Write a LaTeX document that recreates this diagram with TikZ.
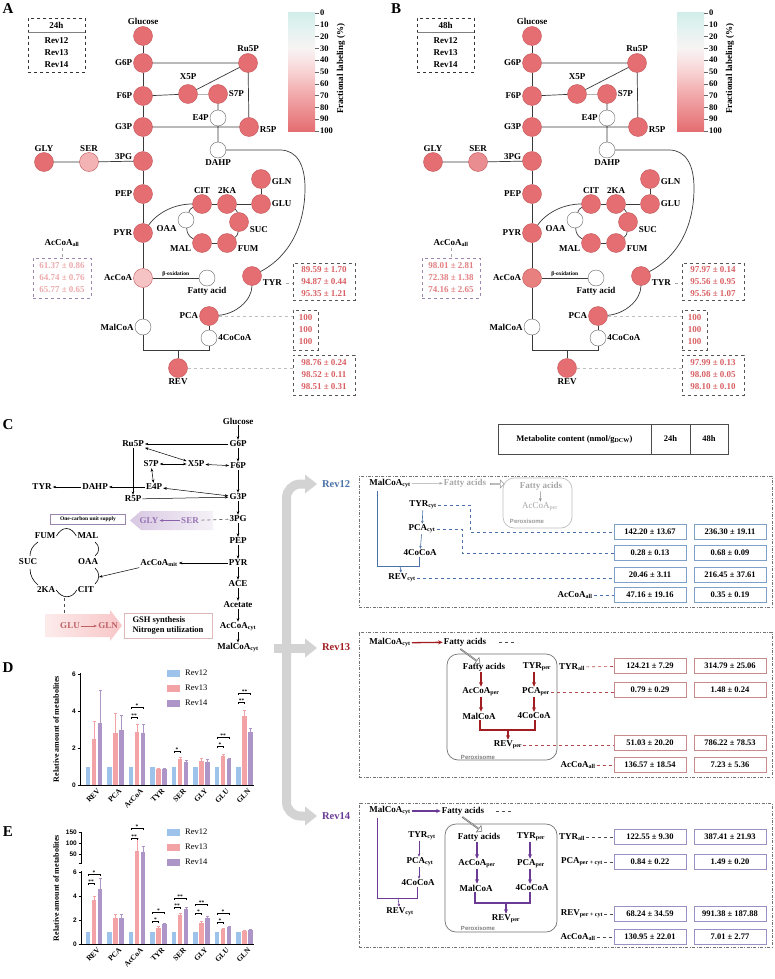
\documentclass[tikz,border=0pt]{standalone}
\usepackage{fontspec}
\setmainfont{Liberation Serif}
\setsansfont{Liberation Sans}
\usetikzlibrary{arrows.meta,shapes.arrows}
\definecolor{cR}{HTML}{E46E71}
\definecolor{cRb}{HTML}{C4585B}
\definecolor{lnC}{HTML}{3A3A3A}
\definecolor{serA}{HTML}{F3B2B4}
\definecolor{accA}{HTML}{F6C3C5}
\definecolor{serB}{HTML}{EA8D90}
\definecolor{accB}{HTML}{E8807F}
\definecolor{valR}{HTML}{D95F63}
\definecolor{valPA}{HTML}{EDAAAD}
\definecolor{valPB}{HTML}{E27F82}
\definecolor{boxP}{HTML}{9A86AE}
\definecolor{boxG}{HTML}{555555}
\definecolor{blueR}{HTML}{4A72A8}
\definecolor{blueB}{HTML}{7FA0C8}
\definecolor{redR}{HTML}{A11D22}
\definecolor{redB}{HTML}{C98A8C}
\definecolor{purR}{HTML}{6A3A95}
\definecolor{purB}{HTML}{9C90C2}
\definecolor{barB}{HTML}{9DC3EA}
\definecolor{barR}{HTML}{F3A3A5}
\definecolor{barP}{HTML}{AE95C8}
\definecolor{arrG}{HTML}{D3D3D3}
\definecolor{lav}{HTML}{D8C8E2}
\definecolor{pnk}{HTML}{F8C6C7}
\definecolor{cb0}{HTML}{D2EEEA}
\definecolor{cb10}{HTML}{DFF2EF}
\definecolor{cb30}{HTML}{F8F4F4}
\definecolor{cb50}{HTML}{F8D2D3}
\definecolor{cb70}{HTML}{F1A7A9}
\definecolor{cb90}{HTML}{E98184}
\definecolor{cb100}{HTML}{E46E71}
\pgfdeclareverticalshading{fracbar}{100bp}{color(0bp)=(cb100); color(25bp)=(cb100); color(30bp)=(cb90); color(40bp)=(cb70); color(50bp)=(cb50); color(60bp)=(cb30); color(70bp)=(cb10); color(75bp)=(cb0); color(100bp)=(cb0)}

\newcommand{\pnet}[3]{%
\node[met, label=above:Glucose] (#1glc) at (143,36) {};
\node[met, label=left:G6P] (#1g6p) at (143,63) {};
\node[met, label=above:Ru5P] (#1ru5p) at (248,63) {};
\node[met, label={[label distance=4pt]above:X5P}] (#1x5p) at (188,94) {};
\node[met, label=right:S7P] (#1s7p) at (218,94) {};
\node[met, label=left:F6P] (#1f6p) at (143,96) {};
\node[omet, label=left:E4P] (#1e4p) at (218,118) {};
\node[met, label=left:G3P] (#1g3p) at (143,127) {};
\node[met, label={[yshift=-3pt]right:R5P}] (#1r5p) at (249,127) {};
\node[met, label=above:GLY] (#1gly) at (44,162) {};
\node[met=#2, label=above:SER] (#1ser) at (89,162) {};
\node[met, label={[yshift=4pt]left:3PG}] (#1pg) at (143,161) {};
\node[omet, label=below:DAHP] (#1dahp) at (218,150) {};
\node[met, label={[yshift=-3pt]right:GLN}] (#1gln) at (261,179) {};
\node[met, label=left:PEP] (#1pep) at (143,194) {};
\node[met, label=above:CIT] (#1cit) at (202,204) {};
\node[met, label=above:2KA] (#1ka) at (227,204) {};
\node[met, label=right:GLU] (#1glu) at (261,204) {};
\node[omet, label={[yshift=-9pt]left:OAA}] (#1oaa) at (186,220) {};
\node[met, label={[yshift=-8pt]right:SUC}] (#1suc) at (239,222) {};
\node[met, label={[yshift=-6pt]left:MAL}] (#1mal) at (202,243) {};
\node[met, label={[yshift=-6pt]right:FUM}] (#1fum) at (227,243) {};
\node[met, label=left:PYR] (#1pyr) at (143,233) {};
\node[met=#3, label=left:AcCoA] (#1acc) at (143,278) {};
\node[omet, label=below:Fatty acid] (#1fa) at (207,278) {};
\node[met, label={[yshift=-7pt]right:TYR}] (#1tyr) at (252,276) {};
\node[met, label=left:PCA] (#1pca) at (209,316) {};
\node[omet, label=left:MalCoA] (#1mcoa) at (143,327) {};
\node[omet, label=right:4CoCoA] (#1coa) at (209,338) {};
\node[met, label=below:REV] (#1rev) at (178,368) {};
\draw[ln] (#1glc)--(#1g6p) (#1g6p)--(#1f6p) (#1f6p)--(#1g3p) (#1g3p)--(#1pg) (#1pg)--(#1pep) (#1pep)--(#1pyr) (#1pyr)--(#1acc) (#1acc)--(#1mcoa);
\draw[ln] (#1g6p)--(#1ru5p) (#1ru5p)--(#1x5p) (#1ru5p)--(#1r5p) (#1f6p)--(#1x5p) (#1s7p)--(#1e4p) (#1e4p)--(#1dahp) (#1g3p)--(#1r5p) (#1gly)--(#1ser) (#1ser)--(#1pg);
\draw[draw=black!30, line width=0.7pt] (#1x5p)--(#1s7p);
\draw[ln] (#1cit)--(#1ka) (#1ka)--(#1glu) (#1glu)--(#1gln) (#1fum)--(#1mal);
\draw[ln] (#1ka) to[bend left=25] (#1suc);
\draw[ln] (#1suc) to[bend left=25] (#1fum);
\draw[ln] (#1mal) to[bend left=30] (#1oaa);
\draw[ln] (#1oaa) to[bend left=25] (#1cit);
\draw[ln] (#1pyr) .. controls (158,212) and (175,204) .. (#1cit);
\draw[ln] (#1dahp) -- (280,150) .. controls (297,150) and (305,165) .. (305,188) .. controls (305,225) and (290,256) .. (#1tyr);
\draw[ln] (#1tyr) .. controls (252,300) and (236,314) .. (#1pca);
\draw[ln] (#1pca) -- (#1coa);
\draw[ln] (#1acc) -- node[above, font=\bfseries\fontsize{5.5}{6}\selectfont, inner sep=1pt] (#1beta) {β-oxidation} (#1fa);
\draw[ln] (#1mcoa) -- (143,350) -- (209,350) -- (#1coa);
\draw[ln] (#1rev) -- (178,350);
\shade[shading=fracbar] (288,13) rectangle (315,131);
\foreach \v [count=\k from 0] in {0,10,...,100} {
  \draw[black!60, line width=0.5pt] (315,{13+11.8*\k}) -- (319,{13+11.8*\k});
  \node[anchor=west, font=\bfseries\fontsize{8.5}{9}\selectfont, inner sep=1pt] (#1t\k) at (319,{13+11.8*\k}) {\v};
}
\node[rotate=90, font=\bfseries\fontsize{9}{10}\selectfont] (#1cbl) at (341,69) {Fractional labeling (\%)};
}

\newcommand{\pvals}[6]{%
\node[lab] (#1accall) at (62,243) {AcCoA\textsubscript{all}};
\node[vbx, draw=boxP, text=#2, minimum width=58pt, minimum height=40pt] (#1accbox) at (62,278) {#3};
\draw[gray!70, dashed] (#1accall) -- (#1accbox);
\node[vbx, draw=boxG, text=valR, minimum width=62pt, minimum height=37pt] (#1tyrbox) at (324,281.5) {#4};
\coordinate (#1tyrd) at (286,283);
\draw[gray!70, dashed] (#1tyrd) -- (#1tyrd -| #1tyrbox.west);
\node[vbx, draw=boxG, text=valR, minimum width=25pt, minimum height=40pt] (#1pcabox) at (305.5,330) {100\\100\\100};
\draw[gray!50, dashed] (#1pca) -- (#1pca -| #1pcabox.west);
\node[vbx, draw=boxG, text=valR, minimum width=62pt, minimum height=40pt] (#1revbox) at (324,375) {#5};
\draw[gray!50, dashed] (#1rev) -- (#1rev -| #1revbox.west);
\node[draw=black!80, dashed, line width=0.6pt, minimum width=57pt, minimum height=54pt, inner sep=0] (#1tb) at (56.5,45) {};
\node[lab] (#1tbh) at (56.5,25.5) {#6};
\draw[black!50, line width=0.5pt] (#1tb.west |- 0,32) -- (#1tb.east |- 0,32);
\node[lab] (#1tr1) at (56.5,41) {Rev12};
\node[lab] (#1tr2) at (56.5,53) {Rev13};
\node[lab] (#1tr3) at (56.5,65) {Rev14};
}

\newcommand{\sigb}[4]{%
\draw[line width=0.5pt] (#1,#3+2) -- (#1,#3) -- (#2,#3) -- (#2,#3+2);
\node[font=\bfseries\fontsize{5.5}{5.5}\selectfont, inner sep=0] at ({(#1+#2)/2},#3-1.6) {#4};}

\begin{document}
\begin{tikzpicture}[x=1pt,y=-1pt,
  every label/.style={font=\bfseries\fontsize{9}{10}\selectfont, inner sep=1pt},
  lab/.style={font=\bfseries\fontsize{9}{10}\selectfont, inner sep=1pt},
  met/.style={circle, draw=cRb, line width=0.4pt, fill=#1, minimum size=19pt, inner sep=0pt},
  met/.default=cR,
  omet/.style={circle, draw=black!60, line width=0.4pt, fill=white, minimum size=16pt, inner sep=0pt},
  ln/.style={draw=lnC, line width=0.7pt},
  vbx/.style={dashed, line width=0.6pt, align=center, font=\bfseries\fontsize{9}{12}\selectfont, inner sep=1pt},
  letter/.style={font=\bfseries\fontsize{15}{15}\selectfont, inner sep=0pt},
  arr/.style={-{Stealth[length=3.5pt,width=2.6pt]}, line width=0.5pt},
  darr/.style={{Stealth[length=3.5pt,width=2.6pt]}-{Stealth[length=3.5pt,width=2.6pt]}, line width=0.5pt},
  vb/.style={draw=#1, line width=0.6pt, minimum width=72pt, minimum height=15pt, inner sep=0pt, font=\bfseries\fontsize{8.5}{9}\selectfont},
  panelbox/.style={draw=black!55, dash pattern=on 3pt off 1.5pt on 0.8pt off 1.5pt, line width=0.6pt, inner sep=0pt, minimum width=413pt},
  perox/.style={draw=black!55, rounded corners=11pt, line width=0.7pt},
  pxt/.style={font=\sffamily\bfseries\fontsize{6}{6}\selectfont, text=black!50, inner sep=0pt},
  thk/.style={-{Stealth[length=4.5pt,width=4pt]}, line width=1.3pt},
  thn/.style={-{Stealth[length=3pt,width=2.6pt]}, line width=0.6pt},
  tickf/.style={font=\sffamily\bfseries\fontsize{6.5}{7}\selectfont, inner sep=1pt},
  catf/.style={font=\bfseries\fontsize{7.5}{7.5}\selectfont, inner sep=0pt},
  legf/.style={font=\fontsize{8.5}{9}\selectfont, inner sep=0pt}
]
\useasboundingbox (0,0) rectangle (774,979);
\fill[white] (0,0) rectangle (774,979);

% ---------------- A and B
\node[letter] (lA) at (8,9) {A};
\node[letter] (lB) at (396,9) {B};
\pnet{A}{serA}{accA}
\pvals{A}{valPA}{61.37 ± 0.86\\64.74 ± 0.76\\65.77 ± 0.65}{89.59 ± 1.70\\94.87 ± 0.44\\95.35 ± 1.21}{98.76 ± 0.24\\98.52 ± 0.11\\98.51 ± 0.31}{24h}
\begin{scope}[shift={(389,0)}]
\pnet{B}{serB}{accB}
\pvals{B}{valPB}{98.01 ± 2.81\\72.38 ± 1.38\\74.16 ± 2.65}{97.97 ± 0.14\\95.56 ± 0.95\\95.56 ± 1.07}{97.99 ± 0.13\\98.08 ± 0.05\\98.10 ± 0.10}{48h}
\end{scope}

% ---------------- C
\node[letter] (lC) at (8,425) {C};
\node[lab] (cglc) at (238,421) {Glucose};
\node[lab] (cg6p) at (238,444) {G6P};
\node[lab] (cru5p) at (133,444) {Ru5P};
\node[lab] (cs7p) at (151,464) {S7P};
\node[lab] (cx5p) at (196,464) {X5P};
\node[lab] (cf6p) at (238,466) {F6P};
\node[lab] (ctyr) at (42,487) {TYR};
\node[lab] (cdahp) at (95,487) {DAHP};
\node[lab] (ce4p) at (154,487) {E4P};
\node[lab] (cr5p) at (133,499) {R5P};
\node[lab] (cg3p) at (238,497) {G3P};
\node[lab] (cpg) at (238,519) {3PG};
\node[lab] (cpep) at (238,541) {PEP};
\node[lab] (cpyr) at (238,563) {PYR};
\node[lab] (cacm) at (159,563) {AcCoA\textsubscript{mit}};
\node[lab] (cace) at (238,584) {ACE};
\node[lab] (cacet) at (238,605) {Acetate};
\node[lab] (caccyt) at (238,627) {AcCoA\textsubscript{cyt}};
\node[lab] (cmal) at (238,648) {MalCoA\textsubscript{cyt}};
\draw[arr] (cglc) -- (cg6p);
\draw[arr] (cg6p) -- (cru5p);
\draw[darr] (cru5p) -- (cx5p);
\draw[darr] (cs7p) -- (cx5p);
\draw[darr] (cx5p) -- (cf6p);
\draw[arr] (cg6p) -- (cf6p);
\draw[arr] (cf6p) -- (cg3p);
\draw[darr] (cs7p) -- (ce4p);
\draw[darr] (ce4p) -- (cg3p);
\draw[arr] (cru5p) -- (cr5p);
\draw[arr] (cr5p) -- (cg3p);
\draw[arr] (ce4p) -- (cdahp);
\draw[arr] (cdahp) -- (ctyr);
\draw[arr] (cg3p) -- (cpg);
\draw[arr] (cpg) -- (cpep);
\draw[arr] (cpep) -- (cpyr);
\draw[arr] (cpyr) -- (cacm);
\draw[arr] (cpyr) -- (cace);
\draw[arr] (cace) -- (cacet);
\draw[arr] (cacet) -- (caccyt);
\draw[arr] (caccyt) -- (cmal);
% lavender arrow
\shade[left color=lav, right color=lav!25] (130,520.5) -- (141,511) -- (213,511) -- (213,530) -- (141,530) -- cycle;
\node[lab, text=purR!70] (cgly) at (149,520.5) {GLY};
\node[lab, text=purR!70] (cser) at (190,520.5) {SER};
\draw[arr, purR!80, line width=0.8pt] (cser) -- (cgly);
\draw[dashed, line width=0.7pt, black!60] (cpg) -- (cser);
\node[draw=boxP, line width=0.6pt, minimum width=75pt, minimum height=10pt, inner sep=1pt, font=\bfseries\fontsize{5.5}{6}\selectfont] (cocb) at (88,519) {One-carbon unit supply};
% TCA ring
\node[lab] (cfum) at (45,536) {FUM};
\node[lab] (cmal2) at (88,536) {MAL};
\node[lab] (csuc) at (28,562) {SUC};
\node[lab] (coaa) at (88,562) {OAA};
\node[lab] (cka) at (46,590) {2KA};
\node[lab] (ccit) at (86,590) {CIT};
\draw[line width=0.6pt] (cfum.east) .. controls (62,526) and (71,526) .. (cmal2.west);
\draw[line width=0.6pt] (95,542) .. controls (100,546) and (100,552) .. (95,556);
\draw[line width=0.6pt] (95,568) .. controls (100,572) and (100,580) .. (95,584);
\draw[line width=0.6pt] (ccit.west) .. controls (72,599) and (62,599) .. (cka.east);
\draw[line width=0.6pt] (38,542) .. controls (32,546) and (30,551) .. (30,556);
\draw[line width=0.6pt] (30,569) .. controls (30,575) and (33,581) .. (38,585);
\coordinate (ctca) at (99,577);
\draw[arr] (cacm) -- (ctca);
% pink arrow
\shade[left color=pnk!35, right color=pnk] (45,614) -- (110,614) -- (110,610) -- (122,625.5) -- (110,641) -- (110,637) -- (45,637) -- cycle;
\coordinate (ckad) at (64,598);
\coordinate (ckae) at (64,613);
\draw[dashed, line width=0.7pt, black!70] (ckad) -- (ckae);
\node[lab, text=redR!70] (cglu) at (70,626) {GLU};
\node[lab, text=redR!70] (cgln) at (108,626) {GLN};
\draw[arr, redR!70, line width=0.8pt] (cglu) -- (cgln);
\node[draw=redB!60, line width=0.6pt, minimum width=88pt, minimum height=25pt, inner sep=2pt, align=left, font=\bfseries\fontsize{8.5}{10}\selectfont] (cgsh) at (168,625.5) {GSH synthesis\\Nitrogen utilization};

% big gray arrows
\coordinate (gA0) at (274,648);
\coordinate (gA1) at (307,484);
\coordinate (gA2) at (307,648);
\coordinate (gA3) at (307,816);
\draw[line width=9pt, arrG, rounded corners=14pt] (gA1) -- (286.5,484) -- (286.5,816) -- (gA3);
\draw[line width=9pt, arrG] (gA0) -- (gA2);
\fill[arrG] (305,474.5) -- (317,484) -- (305,493.5) -- cycle;
\fill[arrG] (305,638.5) -- (317,648) -- (305,657.5) -- cycle;
\fill[arrG] (305,806.5) -- (317,816) -- (305,825.5) -- cycle;

% table header
\node[draw=black!70, line width=0.6pt, minimum width=153pt, minimum height=30pt, inner sep=0pt, font=\bfseries\fontsize{8.5}{9}\selectfont] (th1) at (574.5,439) {Metabolite content (nmol/g\textsubscript{DCW})};
\node[draw=black!70, line width=0.6pt, minimum width=39pt, minimum height=30pt, inner sep=0pt, font=\bfseries\fontsize{8.5}{9}\selectfont] (th2) at (670.5,439) {24h};
\node[draw=black!70, line width=0.6pt, minimum width=38pt, minimum height=30pt, inner sep=0pt, font=\bfseries\fontsize{8.5}{9}\selectfont] (th3) at (709,439) {48h};

% ---------------- Rev12
\node[panelbox, minimum height=131pt] (p12) at (565.5,541.5) {};
\node[font=\bfseries\fontsize{10.5}{11}\selectfont, text=blueR] (rl12) at (336,484) {Rev12};
\node[lab] (r12mal) at (390,484) {MalCoA\textsubscript{cyt}};
\node[lab, text=black!35] (r12fa) at (465,483) {Fatty acids};
\draw[arr, black!35] (r12mal) -- (r12fa);
\draw[perox, draw=black!25] (503,478) rectangle (572,528);
\node[single arrow, draw=black!40, fill=white, line width=0.5pt, minimum height=14pt, minimum width=8pt, single arrow head extend=1.5pt, inner sep=0pt] (r12ha) at (497,484) {};
\node[lab, text=black!35] (r12fa2) at (541,486) {Fatty acids};
\node[lab, font=\fontsize{9}{10}\selectfont, text=black!35] (r12acp) at (540,507) {AcCoA\textsubscript{per}};
\draw[arr, black!45] (r12fa2) -- (r12acp);
\node[pxt, text=black!40] (r12px) at (527,521) {Peroxisome};
\node[lab] (r12tyr) at (423,505) {TYR\textsubscript{cyt}};
\node[lab] (r12pca) at (422,529) {PCA\textsubscript{cyt}};
\node[lab] (r12coa) at (420,553) {4CoCoA};
\node[lab] (r12rev) at (402,578) {REV\textsubscript{cyt}};
\draw[thn, blueR] (r12tyr) -- (r12pca);
\draw[thn, blueR] (r12pca) -- (r12coa);
\coordinate (r12l) at (377,491);
\coordinate (r12m) at (400,566);
\draw[blueR, line width=0.8pt] (r12l) -- (377,566) -- (419,566) -- (r12coa.south -| 419,0);
\draw[thn, blueR] (r12m) -- (r12rev);
\node[lab] (r12acall) at (575,595) {AcCoA\textsubscript{all}};
\node[vb=blueB] (b12a1) at (650,532) {142.20 ± 13.67};
\node[vb=blueB] (b12a2) at (730,532) {236.30 ± 19.11};
\node[vb=blueB] (b12b1) at (650,553) {0.28 ± 0.13};
\node[vb=blueB] (b12b2) at (730,553) {0.68 ± 0.09};
\node[vb=blueB] (b12c1) at (650,575) {20.46 ± 3.11};
\node[vb=blueB] (b12c2) at (730,575) {216.45 ± 37.61};
\node[vb=blueB] (b12d1) at (650,595) {47.16 ± 19.16};
\node[vb=blueB] (b12d2) at (730,595) {0.35 ± 0.19};
\draw[dashed, blueR, line width=0.6pt] (r12tyr) -- (470,505) -- (470,532) -- (b12a1);
\draw[dashed, blueR, line width=0.6pt] (r12pca) -- (462,529) -- (462,553) -- (b12b1);
\draw[dashed, blueR, line width=0.6pt] (r12rev) -- (r12rev -| b12c1.west);
\draw[dashed, blueR, line width=0.6pt] (r12acall) -- (b12d1);

% ---------------- Rev13
\node[panelbox, minimum height=145pt] (p13) at (565.5,704.5) {};
\node[font=\bfseries\fontsize{10.5}{11}\selectfont, text=redR] (rl13) at (336,647) {Rev13};
\node[lab] (r13mal) at (390,643) {MalCoA\textsubscript{cyt}};
\node[lab] (r13fa) at (465,642) {Fatty acids};
\draw[thk, redR] (r13mal) -- (r13fa);
\coordinate (r13fd) at (499,642);
\coordinate (r13fe) at (516,642);
\draw[dashed, black!70, line width=0.6pt] (r13fd) -- (r13fe);
\draw[perox] (447,654) rectangle (557,760);
\node[single arrow, draw=black!60, fill=white, line width=0.5pt, minimum height=24pt, minimum width=8pt, single arrow head extend=1.5pt, inner sep=0pt, rotate=-36] (r13ha) at (470,656) {};
\node[lab] (r13fa2) at (484,667) {Fatty acids};
\node[lab] (r13typ) at (537,667) {TYR\textsubscript{per}};
\node[lab] (r13acp) at (481,692) {AcCoA\textsubscript{per}};
\node[lab] (r13pcp) at (536,692) {PCA\textsubscript{per}};
\node[lab] (r13mc) at (479,716) {MalCoA};
\node[lab] (r13coa) at (534,716) {4CoCoA};
\node[lab] (r13rev) at (508,745) {REV\textsubscript{per}};
\node[pxt] (r13px) at (478,757) {Peroxisome};
\draw[thk, redR] (r13fa2.south -| 481,0) -- (r13acp.north -| 481,0);
\draw[thk, redR] (r13acp.south -| 481,0) -- (r13mc.north -| 481,0);
\draw[thk, redR] (r13typ.south -| 534,0) -- (r13pcp.north -| 534,0);
\draw[thk, redR] (r13pcp.south -| 534,0) -- (r13coa.north -| 534,0);
\coordinate (r13br) at (508,730);
\draw[redR, line width=1.3pt] (r13mc.south -| 480,0) -- (480,730) -- (535,730) -- (r13coa.south -| 535,0);
\draw[thk, redR] (r13br) -- (r13rev);
\node[lab] (r13tyall) at (572,667) {TYR\textsubscript{all}};
\node[lab] (r13acall) at (578,765) {AcCoA\textsubscript{all}};
\node[vb=redB] (b13a1) at (650,666) {124.21 ± 7.29};
\node[vb=redB] (b13a2) at (730,666) {314.79 ± 25.06};
\node[vb=redB] (b13b1) at (650,690) {0.79 ± 0.29};
\node[vb=redB] (b13b2) at (730,690) {1.48 ± 0.24};
\node[vb=redB] (b13c1) at (650,743) {51.03 ± 20.20};
\node[vb=redB] (b13c2) at (730,743) {786.22 ± 78.53};
\node[vb=redB] (b13d1) at (650,765) {136.57 ± 18.54};
\node[vb=redB] (b13d2) at (730,765) {7.23 ± 5.36};
\draw[dashed, redR!80, line width=0.6pt] (r13tyall) -- (b13a1);
\draw[dashed, redR!80, line width=0.6pt] (r13pcp) -- (r13pcp -| b13b1.west);
\draw[dashed, redR!80, line width=0.6pt] (r13rev) -- (r13rev -| b13c1.west);
\draw[dashed, redR!80, line width=0.6pt] (r13acall) -- (b13d1);

% ---------------- Rev14
\node[panelbox, minimum height=144pt] (p14) at (565.5,875) {};
\node[font=\bfseries\fontsize{10.5}{11}\selectfont, text=purR] (rl14) at (336,816) {Rev14};
\node[lab] (r14mal) at (390,811) {MalCoA\textsubscript{cyt}};
\node[lab] (r14fa) at (463,811) {Fatty acids};
\draw[thk, purR] (r14mal) -- (r14fa);
\coordinate (r14fd) at (496,811);
\coordinate (r14fe) at (513,811);
\draw[dashed, black!70, line width=0.6pt] (r14fd) -- (r14fe);
\draw[perox] (445,824) rectangle (557,932);
\node[single arrow, draw=black!60, fill=white, line width=0.5pt, minimum height=24pt, minimum width=8pt, single arrow head extend=1.5pt, inner sep=0pt, rotate=-36] (r14ha) at (472,824) {};
\node[lab] (r14fa2) at (479,837) {Fatty acids};
\node[lab] (r14typ) at (531,837) {TYR\textsubscript{per}};
\node[lab] (r14acp) at (477,864) {AcCoA\textsubscript{per}};
\node[lab] (r14pcp) at (531,864) {PCA\textsubscript{per}};
\node[lab] (r14mc) at (476,888) {MalCoA};
\node[lab] (r14coa) at (532,888) {4CoCoA};
\node[lab] (r14rev) at (506,919) {REV\textsubscript{per}};
\node[pxt] (r14px) at (478,928) {Peroxisome};
\draw[thk, purR] (r14fa2.south -| 477,0) -- (r14acp.north -| 477,0);
\draw[thk, purR] (r14acp.south -| 477,0) -- (r14mc.north -| 477,0);
\draw[thk, purR] (r14typ.south -| 530,0) -- (r14pcp.north -| 530,0);
\draw[thk, purR] (r14pcp.south -| 530,0) -- (r14coa.north -| 530,0);
\coordinate (r14br) at (506,903);
\draw[purR, line width=1.3pt] (r14mc.south -| 475,0) -- (475,903) -- (530,903) -- (r14coa.south -| 530,0);
\draw[thk, purR] (r14br) -- (r14rev);
\node[lab] (r14tyc) at (422,836) {TYR\textsubscript{cyt}};
\node[lab] (r14pcc) at (420,862) {PCA\textsubscript{cyt}};
\node[lab] (r14coc) at (418,883) {4CoCoA};
\node[lab] (r14revc) at (400,912) {REV\textsubscript{cyt}};
\draw[thn, purR] (r14tyc.south -| 419,0) -- (r14pcc.north -| 419,0);
\draw[thn, purR] (r14pcc.south -| 419,0) -- (r14coc.north -| 419,0);
\coordinate (r14l) at (377,818);
\coordinate (r14m) at (398,898);
\draw[purR, line width=0.8pt] (r14l) -- (377,898) -- (417,898) -- (r14coc.south -| 417,0);
\draw[thn, purR] (r14m) -- (r14revc);
\node[lab] (r14tyall) at (572,837) {TYR\textsubscript{all}};
\node[lab] (r14pcall) at (582,862) {PCA\textsubscript{per + cyt}};
\node[lab] (r14revall) at (582,914) {REV\textsubscript{per + cyt}};
\node[lab] (r14acall) at (578,937) {AcCoA\textsubscript{all}};
\node[vb=purB] (b14a1) at (650,837) {122.55 ± 9.30};
\node[vb=purB] (b14a2) at (730,837) {387.41 ± 21.93};
\node[vb=purB] (b14b1) at (650,862) {0.84 ± 0.22};
\node[vb=purB] (b14b2) at (730,862) {1.49 ± 0.20};
\node[vb=purB] (b14c1) at (650,914) {68.24 ± 34.59};
\node[vb=purB] (b14c2) at (730,914) {991.38 ± 187.88};
\node[vb=purB] (b14d1) at (650,937) {130.95 ± 22.01};
\node[vb=purB] (b14d2) at (730,937) {7.01 ± 2.77};
\draw[dashed, black!70, line width=0.6pt] (r14tyall) -- (b14a1);
\draw[dashed, black!70, line width=0.6pt] (r14pcall) -- (b14b1);
\draw[dashed, black!70, line width=0.6pt] (r14revall) -- (b14c1);
\draw[dashed, black!70, line width=0.6pt] (r14acall) -- (b14d1);

% ---------------- D
\node[letter] (lD) at (8,668) {D};
\foreach \i/\p/\pe/\q/\qe in {0/2.49/3.46/3.37/5.1, 1/2.83/3.87/2.97/3.78, 2/2.88/3.3/2.79/3.28, 3/0.86/0.92/0.85/0.91, 4/1.4/1.48/1.24/1.32, 5/1.3/1.45/1.26/1.4, 6/1.57/1.65/1.39/1.45, 7/3.73/4.05/2.85/3.04} {
  \pgfmathsetmacro\xb{88+21.5*\i}
  \fill[barB] ({\xb-2.3},785) rectangle ({\xb+2.3},766.5);
  \fill[barR] ({\xb+3.7},785) rectangle ({\xb+8.3},{785-18.5*\p});
  \fill[barP] ({\xb+9.7},785) rectangle ({\xb+14.3},{785-18.5*\q});
  \draw[barR, line width=0.6pt] ({\xb+6},{785-18.5*\p}) -- ({\xb+6},{785-18.5*\pe}) ({\xb+4.5},{785-18.5*\pe}) -- ({\xb+7.5},{785-18.5*\pe});
  \draw[barP, line width=0.6pt] ({\xb+12},{785-18.5*\q}) -- ({\xb+12},{785-18.5*\qe}) ({\xb+10.5},{785-18.5*\qe}) -- ({\xb+13.5},{785-18.5*\qe});
}
\draw[line width=0.9pt] (80.5,673) -- (80.5,785) -- (254,785);
\foreach \v/\yy in {0/785,2/748,4/711,6/674} {
  \draw[line width=0.8pt] (77.5,\yy) -- (80.5,\yy);
  \node[anchor=east, tickf] (dyt\v) at (77,\yy) {\v};
}
\foreach \i/\n in {0/REV,1/PCA,2/AcCoA,3/TYR,4/SER,5/GLY,6/GLU,7/GLN} {
  \node[rotate=45, anchor=north east, catf] (dx\i) at ({88+21.5*\i+9},788) {\n};
}
\node[rotate=90, font=\bfseries\fontsize{8}{9}\selectfont] (dyl) at (56,729) {Relative amount of metabolites};
\fill[barB] (167,669.5) rectangle (180,676.5); \node[legf, anchor=west] (dl1) at (185,673) {Rev12};
\fill[barR] (167,684.5) rectangle (180,691.5); \node[legf, anchor=west] (dl2) at (185,688) {Rev13};
\fill[barP] (167,699.5) rectangle (180,706.5); \node[legf, anchor=west] (dl3) at (185,703) {Rev14};
\sigb{131}{137}{717}{**}
\sigb{131}{143}{707}{*}
\sigb{174}{180}{751}{*}
\sigb{217}{223}{746}{*}
\sigb{217}{229}{737}{**}
\sigb{238.5}{244.5}{702}{**}
\sigb{238.5}{250.5}{693}{**}

% ---------------- E
\node[letter] (lE) at (8,832) {E};
\foreach \i/\p/\pe/\q/\qe in {0/3.65/4.0/4.6/5.5, 1/2.2/2.5/2.2/2.45, 3/1.35/1.45/1.65/1.72, 4/2.45/2.55/2.95/3.02, 5/1.75/1.9/2.15/2.3, 6/1.25/1.3/1.4/1.47, 7/1.1/1.13/1.15/1.2} {
  \pgfmathsetmacro\xb{88+21.5*\i}
  \fill[barB] ({\xb-2.3},944) rectangle ({\xb+2.3},932);
  \fill[barR] ({\xb+3.7},944) rectangle ({\xb+8.3},{944-12*\p});
  \fill[barP] ({\xb+9.7},944) rectangle ({\xb+14.3},{944-12*\q});
  \draw[barR, line width=0.6pt] ({\xb+6},{944-12*\p}) -- ({\xb+6},{944-12*\pe}) ({\xb+4.5},{944-12*\pe}) -- ({\xb+7.5},{944-12*\pe});
  \draw[barP, line width=0.6pt] ({\xb+12},{944-12*\q}) -- ({\xb+12},{944-12*\qe}) ({\xb+10.5},{944-12*\qe}) -- ({\xb+13.5},{944-12*\qe});
}
\fill[barB] (128.7,944) rectangle (133.3,932);
\fill[barR] (134.7,944) rectangle (139.3,851);
\fill[barP] (140.7,944) rectangle (145.3,852);
\draw[barR, line width=0.6pt] (137,851) -- (137,838) (135.5,838) -- (138.5,838);
\draw[barP, line width=0.6pt] (143,852) -- (143,846) (141.5,846) -- (144.5,846);
\draw[line width=0.9pt] (81.5,832) -- (81.5,863);
\draw[line width=0.9pt] (81.5,871) -- (81.5,944) -- (254,944);
\foreach \v/\yy in {0/944,2/920,4/896,6/872,50/854,100/843,150/832} {
  \draw[line width=0.8pt] (78.5,\yy) -- (81.5,\yy);
  \node[anchor=east, tickf] (eyt\v) at (78,\yy) {\v};
}
\draw[line width=0.8pt] (78.5,863) -- (81.5,863);
\foreach \i/\n in {0/REV,1/PCA,2/AcCoA,3/TYR,4/SER,5/GLY,6/GLU,7/GLN} {
  \node[rotate=45, anchor=north east, catf] (ex\i) at ({88+21.5*\i+9},947) {\n};
}
\node[rotate=90, font=\bfseries\fontsize{8}{9}\selectfont] (eyl) at (56,888) {Relative amount of metabolites};
\fill[barB] (167,828.5) rectangle (180,835.5); \node[legf, anchor=west] (el1) at (185,832) {Rev12};
\fill[barR] (167,843.5) rectangle (180,850.5); \node[legf, anchor=west] (el2) at (185,847) {Rev13};
\fill[barP] (167,858.5) rectangle (180,865.5); \node[legf, anchor=west] (el3) at (185,862) {Rev14};
\sigb{88}{94}{883}{**}
\sigb{88}{100}{874}{*}
\sigb{131}{137}{838}{**}
\sigb{131}{143}{828}{*}
\sigb{152.5}{158.5}{921}{*}
\sigb{152.5}{164.5}{912}{*}
\sigb{174}{180}{907}{**}
\sigb{174}{186}{898}{**}
\sigb{195.5}{201.5}{913}{*}
\sigb{195.5}{207.5}{904}{**}
\sigb{217}{223}{922}{*}
\sigb{217}{229}{913}{*}
\end{tikzpicture}
\end{document}
